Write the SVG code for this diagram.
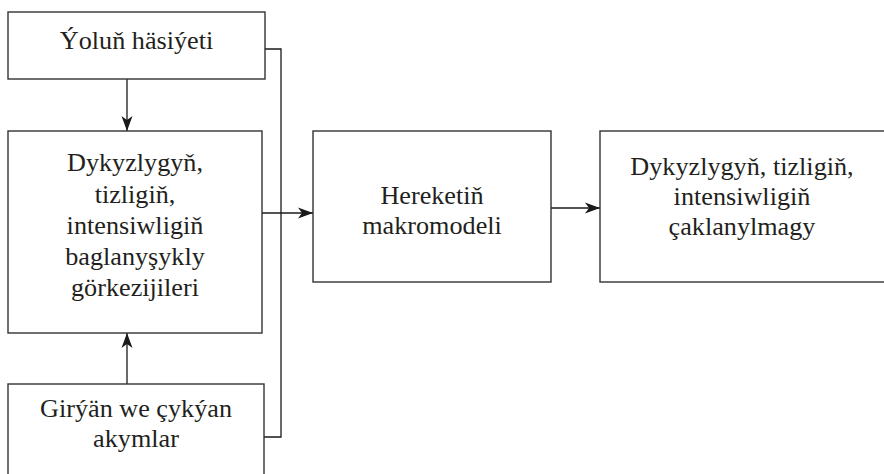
<svg xmlns="http://www.w3.org/2000/svg" width="884" height="474" viewBox="0 0 884 474">
<style>
.box{fill:#fff;stroke:#333;stroke-width:1.4}
.t{font-family:"Liberation Serif","Times New Roman",serif;font-size:26.2px;fill:#231f20;text-anchor:middle}
.c{fill:none;stroke:#1a1a1a;stroke-width:1.3}
</style>
<defs>
<marker id="ah" markerUnits="userSpaceOnUse" markerWidth="16" markerHeight="12" refX="15" refY="6" orient="auto">
<path d="M0,0.5 L15,6 L0,11.5 L4,6 Z" fill="#1a1a1a"/>
</marker>
</defs>
<g id="connectors">
<path class="c" d="M265,49 H281 V437 H264"/>
<path class="c" d="M127,79 V131" marker-end="url(#ah)"/>
<path class="c" d="M127,384 V333" marker-end="url(#ah)"/>
<path class="c" d="M262,213 H313" marker-end="url(#ah)"/>
<path class="c" d="M551,208 H600" marker-end="url(#ah)"/>
</g>
<g id="node1">
<rect class="box" x="8" y="12" width="257" height="67"/>
<text class="t" x="136.5" y="49">Ýoluň häsiýeti</text>
</g>
<g id="node2">
<rect class="box" x="8" y="131" width="254" height="202"/>
<text class="t" x="135" y="171">Dykyzlygyň,</text>
<text class="t" x="135" y="202.5">tizligiň,</text>
<text class="t" x="135" y="234">intensiwligiň</text>
<text class="t" x="135" y="265">baglanyşykly</text>
<text class="t" x="135" y="296">görkezijileri</text>
</g>
<g id="node3">
<rect class="box" x="8" y="384" width="256" height="100"/>
<text class="t" x="136" y="417">Girýän we çykýan</text>
<text class="t" x="136" y="447">akymlar</text>
</g>
<g id="node4">
<rect class="box" x="313" y="131" width="238" height="151"/>
<text class="t" x="432" y="204">Hereketiň</text>
<text class="t" x="432" y="234">makromodeli</text>
</g>
<g id="node5">
<rect class="box" x="600" y="131" width="290" height="151"/>
<text class="t" x="742" y="175">Dykyzlygyň, tizligiň,</text>
<text class="t" x="742" y="205">intensiwligiň</text>
<text class="t" x="742" y="235">çaklanylmagy</text>
</g>
</svg>
